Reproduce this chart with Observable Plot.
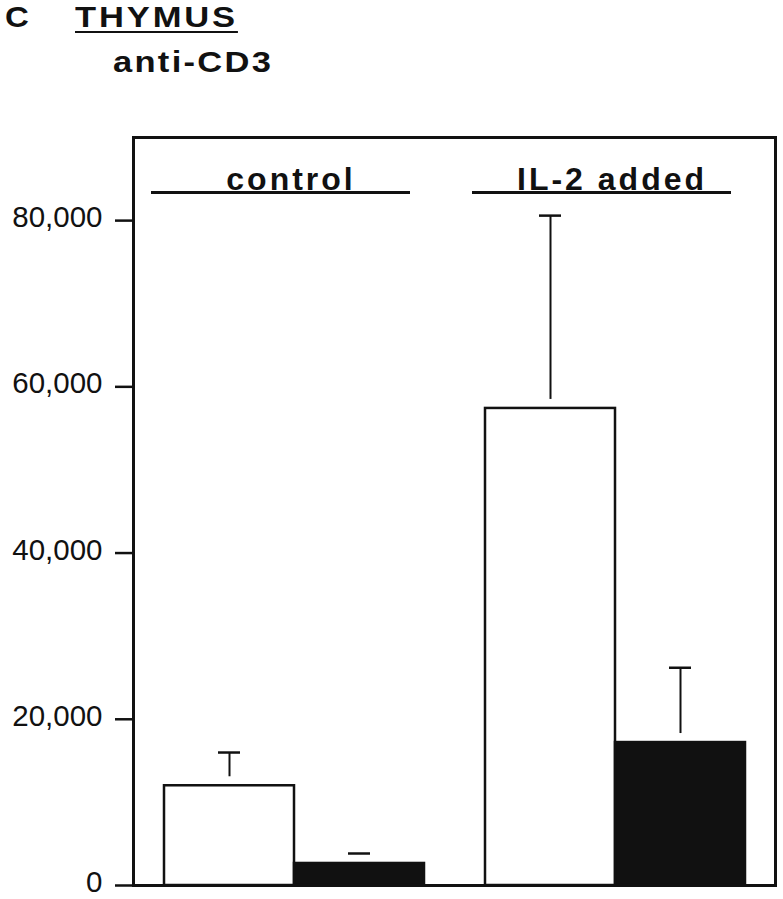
<!DOCTYPE html>
<html>
<head>
<meta charset="utf-8">
<script src="https://cdn.jsdelivr.net/npm/d3@7"></script>
<script src="https://cdn.jsdelivr.net/npm/@observablehq/plot@0.6"></script>
<style>
  html, body { margin: 0; padding: 0; background: #fff; }
  #wrap { position: relative; width: 783px; height: 899px; font-family: "Liberation Sans", Arial, Helvetica, sans-serif; color: #111; }
  .t { position: absolute; font-weight: bold; font-size: 30px; line-height: 1; white-space: nowrap; transform-origin: 0 0; }
  #chart { position: absolute; left: 0; top: 0; }
  #chart g[aria-label="text"] text { letter-spacing: 3px; }
</style>
</head>
<body>
<div id="wrap">
  <div id="chart"></div>
  <div class="t" style="left:5px; top:2px; transform:scaleX(1.1);">C</div>
  <div class="t" style="left:75px; top:2px; letter-spacing:2.5px; transform:scaleX(1.15); text-decoration:underline; text-decoration-thickness:2px; text-underline-offset:4px;">THYMUS</div>
  <div class="t" style="left:113px; top:47px; letter-spacing:2px; transform:scaleX(1.15);">anti-CD3</div>
</div>
<script>
// Data
const groups = ["control", "IL-2 added"];
const series = ["open", "filled"];
const means  = [[12000, 2650], [57400, 17200]];   // [group][series]
const errors = [[4000, 1200], [23200, 9000]];     // upper error
const yTicks = [0, 20000, 40000, 60000, 80000];

const data = [];
groups.forEach((g, gi) => series.forEach((s, si) => {
  data.push({group: g, series: s, value: means[gi][si], top: means[gi][si] + errors[gi][si]});
}));

const font = "Liberation Sans, Arial, Helvetica, sans-serif";

const chart = Plot.plot({
  width: 783,
  height: 899,
  marginTop: 137,
  marginBottom: 14,
  marginLeft: 133,
  marginRight: 8,
  style: {fontFamily: font, color: "#111", background: "transparent"},
  fx: {domain: groups, paddingInner: 0, paddingOuter: 0, axis: null, label: null},
  x: {domain: series, paddingInner: 0, paddingOuter: 0.2346, axis: null},
  y: {domain: [0, 90000], axis: null},
  color: {domain: series, range: ["#ffffff", "#111111"]},
  marks: [
    Plot.barY(data, {fx: "group", x: "series", y: "value", fill: "series", stroke: "#111", strokeWidth: 2.5}),
    Plot.ruleX(data, {fx: "group", x: "series", y1: "top", y2: "value", stroke: "#111", strokeWidth: 2, insetBottom: 9}),
    Plot.tickY(data, {fx: "group", x: "series", y: "top", stroke: "#111", strokeWidth: 2.5, insetLeft: 54, insetRight: 54}),
    Plot.text(groups, {fx: d => d, text: d => d, frameAnchor: "top", dy: 30, dx: -3, fontSize: 32, fontWeight: "bold", fill: "#111"}),
    Plot.frame({anchor: "top", insetTop: 55, insetLeft: 19, insetRight: 46, stroke: "#111", strokeWidth: 3}),
    Plot.axisY({ticks: yTicks, tickSize: 18, fill: "none", strokeWidth: 2.5, label: null}),
    Plot.axisY({ticks: yTicks, tickFormat: d3.format(","), tickSize: 0, tickPadding: 31, dy: -3, fontSize: 29.5, label: null}),
    Plot.frame({facet: "super", stroke: "#111", strokeWidth: 3})
  ]
});
document.getElementById("chart").appendChild(chart);
</script>
</body>
</html>
